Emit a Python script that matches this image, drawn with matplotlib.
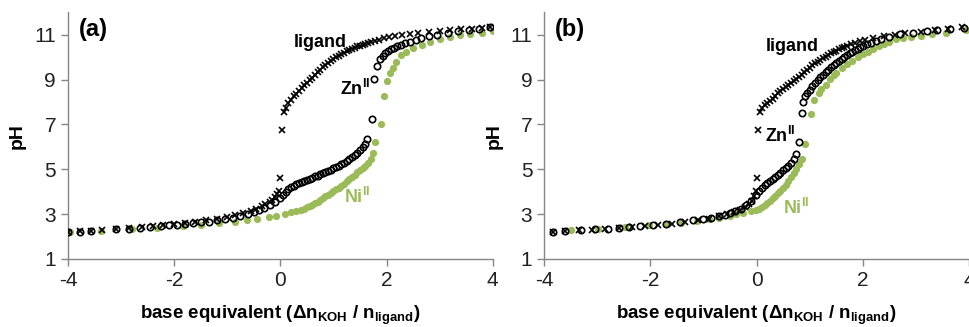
import matplotlib
matplotlib.use("Agg")
import matplotlib.pyplot as plt

plt.rcParams["font.family"] = ["Liberation Sans", "DejaVu Sans"]
plt.rcParams["mathtext.fontset"] = "custom"
plt.rcParams["mathtext.rm"] = "Liberation Sans"
plt.rcParams["mathtext.bf"] = "Liberation Sans:bold"
plt.rcParams["mathtext.default"] = "bf"
plt.rcParams["axes.unicode_minus"] = False

GREEN = "#9BBB59"
GREY = "#868686"

# ---- panel (a) ----
a_lig_x = [-4.0, -3.78, -3.56, -3.35, -3.1, -2.85, -2.6, -2.4, -2.2, -2.0, -1.8, -1.6, -1.4, -1.2,
           -1.0, -0.85, -0.7, -0.55, -0.45, -0.35, -0.28, -0.2, -0.15, -0.1, -0.06, -0.03, 0.0, 0.03,
           0.06, 0.1, 0.15, 0.2, 0.25, 0.3, 0.35, 0.4, 0.45, 0.5, 0.55, 0.6, 0.65, 0.7, 0.75, 0.8,
           0.85, 0.9, 0.95, 1.0, 1.05, 1.1, 1.15, 1.2, 1.25, 1.3, 1.35, 1.4, 1.45, 1.5, 1.55, 1.6,
           1.65, 1.7, 1.78, 1.86, 1.95, 2.05, 2.15, 2.3, 2.45, 2.6, 2.8, 3.0, 3.2, 3.4, 3.6, 3.8, 3.95]
a_lig_y = [2.2, 2.25, 2.25, 2.3, 2.33, 2.38, 2.42, 2.45, 2.5, 2.55, 2.6, 2.65, 2.72, 2.8,
           2.88, 2.95, 3.05, 3.15, 3.25, 3.35, 3.45, 3.55, 3.65, 3.75, 3.9, 4.05, 4.6, 6.75,
           7.55, 7.75, 7.95, 8.1, 8.25, 8.37, 8.5, 8.62, 8.75, 8.85, 8.97, 9.08, 9.2, 9.33, 9.44, 9.55,
           9.65, 9.75, 9.84, 9.92, 10.0, 10.07, 10.14, 10.2, 10.27, 10.33, 10.38, 10.43, 10.48, 10.52, 10.56, 10.6,
           10.63, 10.66, 10.72, 10.78, 10.84, 10.9, 10.95, 11.0, 11.04, 11.08, 11.12, 11.15, 11.2, 11.25, 11.28, 11.32, 11.35]

a_zn_x = [-4.0, -3.78, -3.56, -3.1, -2.85, -2.65, -2.45, -2.25, -2.1, -1.95, -1.8, -1.65, -1.5, -1.35,
          -1.2, -1.05, -0.9, -0.75, -0.6, -0.5, -0.4, -0.3, -0.2, -0.1, 0.0, 0.05, 0.1, 0.15, 0.2,
          0.25, 0.3, 0.35, 0.4, 0.45, 0.5, 0.55, 0.6, 0.65, 0.7, 0.75, 0.8, 0.85, 0.9, 0.95, 1.0,
          1.05, 1.1, 1.15, 1.2, 1.25, 1.3, 1.35, 1.4, 1.45, 1.5, 1.55, 1.6, 1.63, 1.72, 1.77, 1.82,
          1.88, 1.93, 1.98, 2.03, 2.08, 2.14, 2.2, 2.27, 2.35, 2.45, 2.55, 2.65, 2.8, 2.95, 3.15,
          3.35, 3.55, 3.75, 3.95]
a_zn_y = [2.2, 2.22, 2.25, 2.32, 2.36, 2.4, 2.43, 2.47, 2.5, 2.53, 2.56, 2.6, 2.63, 2.67,
          2.72, 2.77, 2.83, 2.9, 3.0, 3.08, 3.17, 3.27, 3.4, 3.55, 3.72, 3.85, 4.0, 4.12, 4.2,
          4.27, 4.33, 4.38, 4.43, 4.48, 4.53, 4.58, 4.63, 4.68, 4.72, 4.77, 4.82, 4.87, 4.93, 4.98, 5.04,
          5.1, 5.16, 5.23, 5.3, 5.37, 5.45, 5.53, 5.62, 5.72, 5.84, 5.98, 6.15, 6.35, 7.25, 9.05, 9.6,
          9.9, 10.05, 10.18, 10.27, 10.35, 10.42, 10.48, 10.55, 10.62, 10.7, 10.78, 10.85, 10.93, 11.0, 11.08,
          11.15, 11.22, 11.28, 11.35]

a_ni_x = [-3.96, -3.38, -2.8, -2.32, -1.83, -1.49, -1.15, -0.85, -0.62, -0.43, -0.22, -0.08, 0.08,
          0.2, 0.3, 0.38, 0.45, 0.5, 0.55, 0.6, 0.65, 0.7, 0.75, 0.8, 0.85, 0.9, 0.95, 1.0, 1.05,
          1.1, 1.15, 1.2, 1.25, 1.3, 1.35, 1.4, 1.45, 1.5, 1.55, 1.6, 1.65, 1.7, 1.74, 1.79, 1.9,
          1.96, 2.01, 2.07, 2.13, 2.18, 2.28, 2.37, 2.5, 2.66, 2.81, 3.0, 3.19, 3.38, 3.57, 3.8, 4.0]
a_ni_y = [2.2, 2.25, 2.32, 2.38, 2.47, 2.52, 2.6, 2.66, 2.73, 2.78, 2.86, 2.92, 3.0,
          3.08, 3.15, 3.2, 3.25, 3.3, 3.36, 3.42, 3.48, 3.55, 3.63, 3.71, 3.79, 3.87, 3.95, 4.03, 4.1,
          4.18, 4.27, 4.36, 4.46, 4.56, 4.66, 4.76, 4.86, 4.96, 5.06, 5.16, 5.27, 5.45, 5.73, 6.22, 7.03,
          8.25, 8.95, 9.3, 9.52, 9.78, 10.08, 10.25, 10.4, 10.55, 10.7, 10.83, 10.9, 10.98, 11.04, 11.1, 11.15]

# ---- panel (b) ----
b_lig_x = [-3.83, -3.6, -3.35, -3.1, -2.85, -2.6, -2.35, -2.1, -1.85, -1.6, -1.35, -1.1, -0.9,
           -0.7, -0.55, -0.42, -0.32, -0.22, -0.14, -0.08, -0.04, -0.01, 0.0, 0.02,
           0.06, 0.1, 0.15, 0.2, 0.25, 0.3, 0.35, 0.4, 0.45, 0.5, 0.55, 0.6, 0.65, 0.7, 0.75, 0.8,
           0.85, 0.9, 0.95, 1.0, 1.05, 1.1, 1.15, 1.2, 1.25, 1.3, 1.35, 1.4, 1.45, 1.5, 1.55, 1.6,
           1.65, 1.7, 1.78, 1.86, 1.95, 2.05, 2.2, 2.4, 2.6, 2.8, 3.1, 3.35, 3.6, 3.87]
b_lig_y = [2.2, 2.25, 2.28, 2.3, 2.33, 2.38, 2.42, 2.47, 2.52, 2.58, 2.65, 2.72, 2.8,
           2.9, 3.0, 3.1, 3.2, 3.32, 3.45, 3.6, 3.8, 4.05, 4.6, 6.75,
           7.55, 7.72, 7.85, 7.95, 8.05, 8.15, 8.27, 8.4, 8.5, 8.6, 8.68, 8.77, 8.86, 8.95, 9.04, 9.13,
           9.23, 9.33, 9.44, 9.54, 9.64, 9.73, 9.81, 9.89, 9.96, 10.03, 10.1, 10.17, 10.24, 10.3, 10.36, 10.42,
           10.47, 10.52, 10.58, 10.65, 10.72, 10.78, 10.85, 10.93, 11.0, 11.07, 11.13, 11.2, 11.28, 11.35]

b_zn_x = [-3.83, -3.6, -3.3, -3.05, -2.8, -2.6, -2.4, -2.2, -1.95, -1.7, -1.45, -1.2, -1.0, -0.85,
          -0.7, -0.6, -0.5, -0.4, -0.3, -0.2, -0.1, -0.02, 0.05, 0.1, 0.15, 0.2, 0.25, 0.3, 0.35,
          0.4, 0.45, 0.5, 0.55, 0.6, 0.65, 0.7, 0.75, 0.79, 0.85, 0.88, 0.91, 0.95, 1.0, 1.05, 1.1,
          1.15, 1.2, 1.25, 1.3, 1.35, 1.4, 1.45, 1.5, 1.55, 1.6, 1.65, 1.7, 1.75, 1.8, 1.85, 1.9,
          1.95, 2.0, 2.08, 2.16, 2.25, 2.35, 2.5, 2.7, 2.95, 3.2, 3.4, 3.65, 3.9]
b_zn_y = [2.2, 2.25, 2.28, 2.32, 2.36, 2.4, 2.43, 2.47, 2.52, 2.58, 2.65, 2.72, 2.78, 2.85,
          2.92, 2.98, 3.05, 3.15, 3.25, 3.4, 3.6, 3.85, 4.05, 4.18, 4.3, 4.4, 4.48, 4.55, 4.65,
          4.75, 4.85, 4.95, 5.05, 5.17, 5.3, 5.45, 5.68, 6.22, 7.5, 8.0, 8.25, 8.4, 8.55, 8.7, 8.85,
          8.98, 9.1, 9.22, 9.33, 9.45, 9.55, 9.65, 9.75, 9.85, 9.93, 10.02, 10.1, 10.18, 10.25, 10.32, 10.38,
          10.44, 10.5, 10.58, 10.65, 10.72, 10.8, 10.9, 11.05, 11.1, 11.15, 11.2, 11.28, 11.32]

b_ni_x = [-3.49, -2.98, -2.47, -2.02, -1.7, -1.42, -1.13, -0.89, -0.7, -0.51, -0.38, -0.25, -0.11,
          -0.02, 0.05, 0.1, 0.15, 0.2, 0.25, 0.3, 0.35, 0.4, 0.45, 0.5, 0.55, 0.6, 0.65, 0.7, 0.75,
          0.8, 0.85, 0.92, 1.03, 1.09, 1.17, 1.22, 1.3, 1.38, 1.45, 1.5, 1.6, 1.7, 1.8, 1.9, 2.0,
          2.1, 2.2, 2.3, 2.4, 2.5, 2.62, 2.75, 2.9, 3.1, 3.3, 3.57, 3.94]
b_ni_y = [2.3, 2.34, 2.42, 2.5, 2.55, 2.62, 2.7, 2.78, 2.84, 2.92, 3.0, 3.05, 3.12,
          3.18, 3.25, 3.32, 3.4, 3.48, 3.58, 3.7, 3.82, 3.93, 4.05, 4.18, 4.32, 4.48, 4.65, 4.82, 5.02,
          5.22, 5.45, 6.13, 7.47, 8.1, 8.4, 8.58, 8.77, 9.02, 9.2, 9.3, 9.52, 9.7, 9.85, 10.0, 10.13,
          10.25, 10.38, 10.5, 10.6, 10.7, 10.8, 10.86, 10.92, 10.97, 11.02, 11.08, 11.2]

panels = [
    ("(a)", a_lig_x, a_lig_y, a_zn_x, a_zn_y, a_ni_x, a_ni_y,
     [(0.76, 10.64), (1.4, 8.6), (1.45, 3.77)]),
    ("(b)", b_lig_x, b_lig_y, b_zn_x, b_zn_y, b_ni_x, b_ni_y,
     [(0.68, 10.46), (0.45, 6.5), (0.74, 3.28)]),
]

fig = plt.figure(figsize=(9.7, 3.27), dpi=100)
lefts = [0.070, 0.561]

for left, (tag, lx, ly, zx, zy, nx, ny, lab) in zip(lefts, panels):
    ax = fig.add_axes([left, 0.208, 0.438, 0.754])

    ax.plot(nx, ny, "o", color=GREEN, markersize=5.2, markeredgewidth=0, zorder=2)
    ax.plot(zx, zy, "o", markerfacecolor="none", markeredgecolor="black",
            markersize=4.6, markeredgewidth=1.2, zorder=3)
    ax.plot(lx, ly, "x", color="black", markersize=4.5, markeredgewidth=1.2, zorder=4)

    ax.text(*lab[0], "ligand", fontsize=13, fontweight="bold", ha="center", va="center")
    ax.text(*lab[1], r"Zn$^{II}$", fontsize=13, fontweight="bold", ha="center", va="center")
    ax.text(*lab[2], r"Ni$^{II}$", fontsize=13, fontweight="bold", color=GREEN,
            ha="center", va="center")
    ax.text(0.025, 0.93, tag, transform=ax.transAxes, fontsize=17, fontweight="bold",
            ha="left", va="center")

    ax.set_xlim(-4, 4)
    ax.set_ylim(1, 12)
    ax.set_xticks([-4, -2, 0, 2, 4])
    ax.set_yticks([1, 3, 5, 7, 9, 11])
    ax.tick_params(labelsize=15, labelcolor="#222222", color=GREY, length=5, width=1,
                   direction="out")

    for s in ["top", "right"]:
        ax.spines[s].set_visible(False)
    for s in ["left", "bottom"]:
        ax.spines[s].set_color(GREY)
        ax.spines[s].set_linewidth(1)

    ax.set_ylabel("pH", fontsize=14, fontweight="bold", labelpad=6)
    ax.set_xlabel(r"base equivalent ($\Delta$n$_{KOH}$ / n$_{ligand}$)",
                  fontsize=13.5, fontweight="bold", labelpad=10)

fig.savefig("out.png", dpi=100)
